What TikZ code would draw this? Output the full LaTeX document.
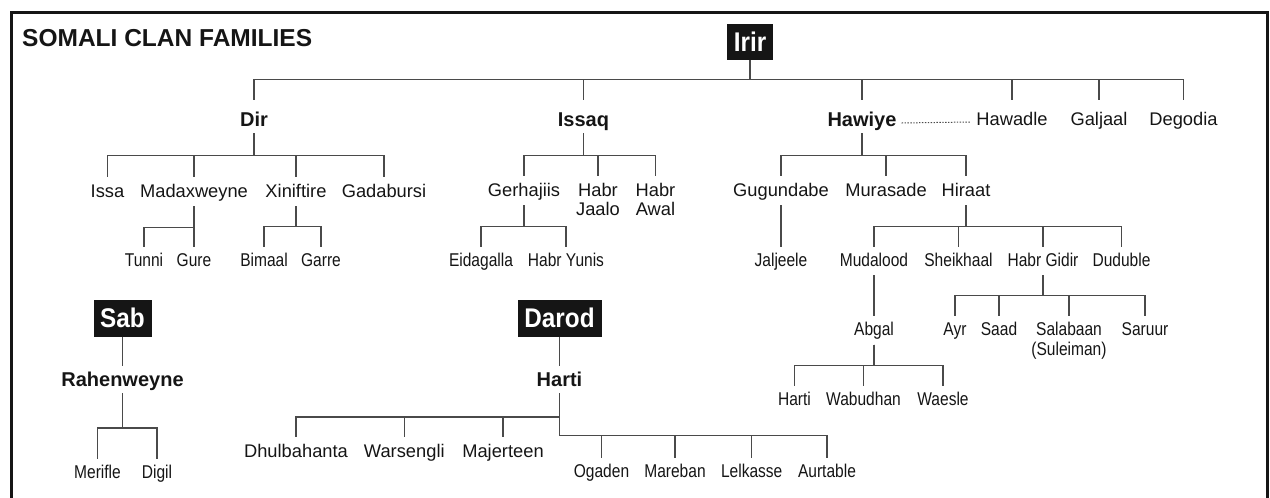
\documentclass[tikz,border=0pt]{standalone}
\usepackage{fontspec}
\setmainfont{Liberation Sans}
\newfontfamily\narrowfont[FakeStretch=0.84]{Liberation Sans}
\newfontfamily\boxfont[FakeStretch=0.9]{Liberation Sans}
\definecolor{ink}{HTML}{151515}
\definecolor{wire}{HTML}{4A4A4A}
\newcommand{\twoline}[2]{\begin{tabular}[t]{@{}c@{}}#1\\#2\end{tabular}}

\begin{document}
\begin{tikzpicture}[
    x=1pt, y=-1pt,
    % Label styles
    lbl/.style={font=\fontsize{18.3}{19.5}\selectfont, text=ink, inner sep=0pt,
                text height=20pt, text depth=9pt, anchor=base},
    narrow_lbl/.style={font=\narrowfont\fontsize{18.5}{20}\selectfont, text=ink, inner sep=0pt,
                text height=19pt, text depth=9pt, anchor=base},
    clan/.style={font=\bfseries\fontsize{20}{22}\selectfont, text=ink, inner sep=0pt,
                text height=20pt, text depth=7pt, anchor=base},
    family/.style={rectangle, fill=ink, text=white, inner sep=0pt,
                font=\boxfont\bfseries\fontsize{27}{30}\selectfont, minimum height=37pt},
    link/.style={draw=wire, line width=1.3pt},
    kin_link/.style={draw=wire, line width=1pt, dash pattern=on 1.4pt off 1.5pt}
]
\useasboundingbox (0,0) rectangle (1270,498);

% Frame (open at the bottom)
\draw[line width=3pt, color=ink] (11,498) -- (11,12.5) -- (1267.5,12.5) -- (1267.5,498);

% Title
\node[font=\bfseries\fontsize{24.5}{28}\selectfont, text=ink, inner sep=0pt, anchor=base west] (title) at (22,46) {SOMALI CLAN FAMILIES};

% Irir and its clans
\node[family, minimum width=46pt, minimum height=36pt] (irir) at (750,42) {Irir};
\node[clan, text height=26pt] (dir) at (254,126) {Dir};
\node[clan, text height=26pt] (issaq) at (583.5,126) {Issaq};
\node[clan, text height=26pt] (hawiye) at (862,126) {Hawiye};
\node[lbl, text height=25pt] (hawadle) at (1012,125) {Hawadle};
\node[lbl, text height=25pt] (galjaal) at (1099,125) {Galjaal};
\node[lbl, text height=25pt] (degodia) at (1183.5,125) {Degodia};

% Dir branch
\node[lbl] (issa) at (107.5,197) {Issa};
\node[lbl] (madax) at (194,197) {Madaxweyne};
\node[lbl] (xinif) at (296,197) {Xiniftire};
\node[lbl] (gadab) at (384,197) {Gadabursi};
\node[narrow_lbl] (tunni) at (144,266) {Tunni};
\node[narrow_lbl] (gure) at (194,266) {Gure};
\node[narrow_lbl] (bimaal) at (264,266) {Bimaal};
\node[narrow_lbl] (garre) at (321,266) {Garre};

% Issaq branch
\node[lbl] (gerha) at (524,196) {Gerhajiis};
\node[lbl] (habr_jaalo) at (598,196) {\twoline{Habr}{Jaalo}};
\node[lbl] (habr_awal) at (655.5,196) {\twoline{Habr}{Awal}};
\node[narrow_lbl] (eidag) at (481,266) {Eidagalla};
\node[narrow_lbl] (habr_yunis) at (566,266) {Habr Yunis};

% Hawiye branch
\node[lbl] (gugun) at (781,196) {Gugundabe};
\node[lbl] (muras) at (886,196) {Murasade};
\node[lbl] (hiraat) at (966,196) {Hiraat};
\node[narrow_lbl] (jaljeele) at (781,266) {Jaljeele};
\node[narrow_lbl] (mudal) at (874,266) {Mudalood};
\node[narrow_lbl] (sheik) at (958.5,266) {Sheikhaal};
\node[narrow_lbl] (habr_gidir) at (1043,266) {Habr Gidir};
\node[narrow_lbl] (dudub) at (1121.5,266) {Duduble};
\node[narrow_lbl] (abgal) at (874,335.5) {Abgal};
\node[narrow_lbl] (ayr) at (955,335.5) {Ayr};
\node[narrow_lbl] (saad) at (999,335.5) {Saad};
\node[narrow_lbl] (salab) at (1069,335.5) {\twoline{Salabaan}{(Suleiman)}};
\node[narrow_lbl] (saruur) at (1145,335.5) {Saruur};
\node[narrow_lbl] (harti_ab) at (794.5,405.5) {Harti};
\node[narrow_lbl] (wabud) at (863.5,405.5) {Wabudhan};
\node[narrow_lbl] (waesle) at (943,405.5) {Waesle};

% Sab
\node[family, minimum width=58pt] (sab) at (122.5,318) {Sab};
\node[clan] (rahen) at (122.5,386) {Rahenweyne};
\node[narrow_lbl] (merifle) at (97.5,478) {Merifle};
\node[narrow_lbl] (digil) at (157,478) {Digil};

% Darod
\node[family, minimum width=84pt] (darod) at (559.5,318) {Darod};
\node[clan] (harti) at (559.5,386) {Harti};
\node[lbl] (dhul) at (296,457) {Dhulbahanta};
\node[lbl] (warse) at (404.3,457) {Warsengli};
\node[lbl] (majer) at (503,457) {Majerteen};
\node[narrow_lbl] (ogaden) at (601.5,477) {Ogaden};
\node[narrow_lbl] (mareb) at (675,477) {Mareban};
\node[narrow_lbl] (lelka) at (751.7,477) {Lelkasse};
\node[narrow_lbl] (aurta) at (827,477) {Aurtable};

% Tree lines
\draw[link] (irir.south) -- ++(0,19) -| (dir.north);
\draw[link] (irir.south) -- ++(0,19) -| (issaq.north);
\draw[link] (irir.south) -- ++(0,19) -| (hawiye.north);
\draw[link] (irir.south) -- ++(0,19) -| (hawadle.north);
\draw[link] (irir.south) -- ++(0,19) -| (galjaal.north);
\draw[link] (irir.south) -- ++(0,19) -| (degodia.north);
\draw[kin_link] ([xshift=5pt,yshift=3pt]hawiye.base east) -- ([xshift=-6pt,yshift=3pt]hawadle.base west);

\draw[link] (dir.south) -- ++(0,22) -| (issa.north);
\draw[link] (dir.south) -- ++(0,22) -| (madax.north);
\draw[link] (dir.south) -- ++(0,22) -| (xinif.north);
\draw[link] (dir.south) -- ++(0,22) -| (gadab.north);
\draw[link] (madax.south) -- ++(0,21) -| (tunni.north);
\draw[link] (madax.south) -- ++(0,21) -| (gure.north);
\draw[link] (xinif.south) -- ++(0,20) -| (bimaal.north);
\draw[link] (xinif.south) -- ++(0,20) -| (garre.north);

\draw[link] (issaq.south) -- ++(0,22) -| (gerha.north);
\draw[link] (issaq.south) -- ++(0,22) -| (habr_jaalo.north);
\draw[link] (issaq.south) -- ++(0,22) -| (habr_awal.north);
\draw[link] (gerha.south) -- ++(0,21) -| (eidag.north);
\draw[link] (gerha.south) -- ++(0,21) -| (habr_yunis.north);

\draw[link] (hawiye.south) -- ++(0,22) -| (gugun.north);
\draw[link] (hawiye.south) -- ++(0,22) -| (muras.north);
\draw[link] (hawiye.south) -- ++(0,22) -| (hiraat.north);
\draw[link] (gugun.south) -- (jaljeele.north);
\draw[link] (hiraat.south) -- ++(0,21) -| (mudal.north);
\draw[link] (hiraat.south) -- ++(0,21) -| (sheik.north);
\draw[link] (hiraat.south) -- ++(0,21) -| (habr_gidir.north);
\draw[link] (hiraat.south) -- ++(0,21) -| (dudub.north);
\draw[link] (mudal.south) -- (abgal.north);
\draw[link] (abgal.south) -- ++(0,21) -| (harti_ab.north);
\draw[link] (abgal.south) -- ++(0,21) -| (wabud.north);
\draw[link] (abgal.south) -- ++(0,21) -| (waesle.north);
\draw[link] (habr_gidir.south) -- ++(0,20) -| (ayr.north);
\draw[link] (habr_gidir.south) -- ++(0,20) -| (saad.north);
\draw[link] (habr_gidir.south) -- ++(0,20) -| (salab.north);
\draw[link] (habr_gidir.south) -- ++(0,20) -| (saruur.north);

\draw[link] (sab.south) -- (rahen.north);
\draw[link] (rahen.south) -- ++(0,34.7) -| (merifle.north);
\draw[link] (rahen.south) -- ++(0,34.7) -| (digil.north);

\draw[link] (darod.south) -- (harti.north);
\draw[link] (harti.south) -- ++(0,23.7) -| (dhul.north);
\draw[link] (harti.south) -- ++(0,23.7) -| (warse.north);
\draw[link] (harti.south) -- ++(0,23.7) -| (majer.north);
\draw[link] (harti.south) -- ++(0,42) -| (ogaden.north);
\draw[link] (harti.south) -- ++(0,42) -| (mareb.north);
\draw[link] (harti.south) -- ++(0,42) -| (lelka.north);
\draw[link] (harti.south) -- ++(0,42) -| (aurta.north);

\end{tikzpicture}
\end{document}
